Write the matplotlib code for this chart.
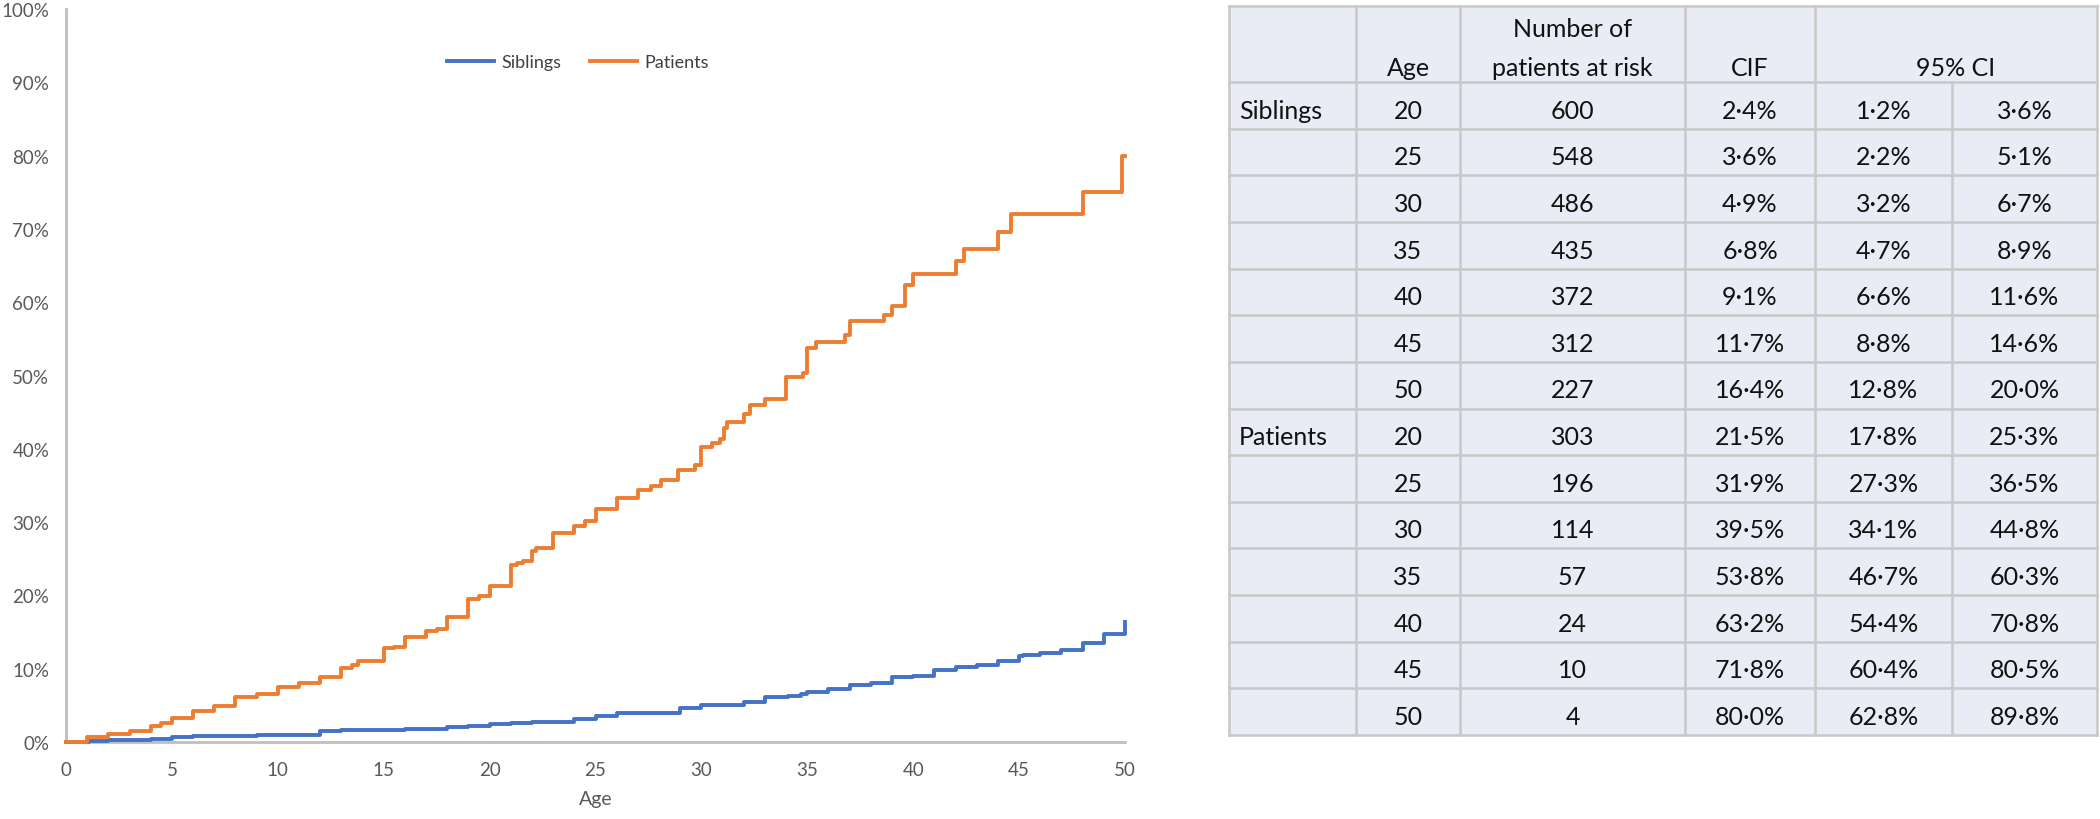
import matplotlib
matplotlib.use("Agg")
import matplotlib.pyplot as plt
from matplotlib.patches import Rectangle
from matplotlib.ticker import FuncFormatter

plt.rcParams['font.family'] = ['Lato', 'DejaVu Sans']

# ---------------- data ----------------
sib_age = [0, 1.1, 2, 4, 5, 6, 9, 12, 13, 16, 18, 19, 20, 21, 22, 24, 25, 26, 29, 30,
           31, 32, 33, 34.1, 34.7, 35, 36, 37, 38, 39, 40, 41, 42, 43, 44, 45, 45.2,
           46, 47, 48, 49, 50]
sib_cif = [0, 0.15, 0.25, 0.45, 0.65, 0.8, 0.95, 1.45, 1.6, 1.8, 2.0, 2.2, 2.4, 2.6, 2.7,
           3.1, 3.5, 3.9, 4.7, 5.0, 5.1, 5.5, 6.2, 6.3, 6.6, 6.8, 7.2, 7.8, 8.0, 8.8,
           9.0, 9.8, 10.2, 10.5, 11.1, 11.7, 11.9, 12.1, 12.5, 13.5, 14.8, 16.4]

pat_age = [0, 1, 2, 3, 4, 4.5, 5, 6, 7, 8, 9, 10, 11, 12, 13, 13.5, 13.8, 15, 15.5,
           16, 17, 17.5, 18, 19, 19.5, 20, 21, 21.3, 21.6, 22, 22.2, 23, 24, 24.5, 25,
           26, 27, 27.6, 28.1, 28.9, 29.7, 30, 30.5, 30.9, 31.05, 31.2, 32, 32.3, 33,
           34, 34.8, 35, 35.4, 36.8, 37, 38.6, 39, 39.6, 40, 42, 42.4, 44, 44.6, 48,
           49.85, 50]
pat_cif = [0, 0.7, 1.1, 1.5, 2.2, 2.6, 3.3, 4.2, 4.9, 6.1, 6.5, 7.5, 8.0, 8.9, 10.1,
           10.5, 11.1, 12.8, 13.0, 14.3, 15.1, 15.4, 17.0, 19.5, 19.9, 21.3, 24.1, 24.4,
           24.7, 26.1, 26.5, 28.5, 29.5, 30.2, 31.8, 33.3, 34.4, 34.9, 35.8, 37.1, 37.8,
           40.2, 40.8, 41.4, 42.9, 43.6, 44.7, 46.0, 46.8, 49.8, 50.4, 53.8, 54.6, 55.5,
           57.4, 58.3, 59.5, 62.4, 63.8, 65.6, 67.3, 69.6, 72.1, 75.1, 80.0, 80.0]

series_names = ["Siblings", "Patients"]
series_colors = ["#4472C4", "#ED7D31"]

x_ticks = [0, 5, 10, 15, 20, 25, 30, 35, 40, 45, 50]
y_ticks = [0, 10, 20, 30, 40, 50, 60, 70, 80, 90, 100]

table_header = ["", "Age", ["Number of", "patients at risk"], "CIF", "95% CI"]
table_group = ["Siblings", "", "", "", "", "", "",
               "Patients", "", "", "", "", "", ""]
table_age = ["20", "25", "30", "35", "40", "45", "50",
             "20", "25", "30", "35", "40", "45", "50"]
table_risk = ["600", "548", "486", "435", "372", "312", "227",
              "303", "196", "114", "57", "24", "10", "4"]
table_cif = ["2·4%", "3·6%", "4·9%", "6·8%", "9·1%", "11·7%", "16·4%",
             "21·5%", "31·9%", "39·5%", "53·8%", "63·2%", "71·8%", "80·0%"]
table_lo = ["1·2%", "2·2%", "3·2%", "4·7%", "6·6%", "8·8%", "12·8%",
            "17·8%", "27·3%", "34·1%", "46·7%", "54·4%", "60·4%", "62·8%"]
table_hi = ["3·6%", "5·1%", "6·7%", "8·9%", "11·6%", "14·6%", "20·0%",
            "25·3%", "36·5%", "44·8%", "60·3%", "70·8%", "80·5%", "89·8%"]

# ---------------- figure ----------------
W, H = 2100, 820
fig = plt.figure(figsize=(W / 100, H / 100), dpi=100)

ax_l, ax_r, ax_t, ax_b = 66, 1125, 10, 743
ax = fig.add_axes([ax_l / W, 1 - ax_b / H, (ax_r - ax_l) / W, (ax_b - ax_t) / H])
for s in ["top", "right"]:
    ax.spines[s].set_visible(False)
for s in ["left", "bottom"]:
    ax.spines[s].set_color("#BFBFBF")
    ax.spines[s].set_linewidth(2)
    ax.spines[s].set_zorder(1)
ax.step(sib_age, sib_cif, where='post', color=series_colors[0], lw=2.8,
        label=series_names[0], clip_on=False, zorder=3)
ax.step(pat_age, pat_cif, where='post', color=series_colors[1], lw=2.8,
        label=series_names[1], clip_on=False, zorder=4)
ax.set_xlim(0, 50)
ax.set_ylim(0, 100)
ax.set_xticks(x_ticks)
ax.set_yticks(y_ticks)
ax.yaxis.set_major_formatter(FuncFormatter(lambda v, p: f"{v:.0f}%"))
ax.tick_params(length=0, labelsize=13.5, labelcolor="#595959")
ax.tick_params(axis="x", pad=14)
ax.tick_params(axis="y", pad=12)
ax.set_xlabel("Age", fontsize=14, color="#595959", labelpad=8)
leg = ax.legend(loc="center", bbox_to_anchor=(578 / W, 1 - 63 / H),
                bbox_transform=fig.transFigure, ncol=2, frameon=False,
                fontsize=13, handlelength=2.6, columnspacing=1.6, handletextpad=0.4)
for t in leg.get_texts():
    t.set_color("#404040")

# ---------------- table ----------------
tax = fig.add_axes([0, 0, 1, 1])
tax.set_xlim(0, W)
tax.set_ylim(H, 0)
tax.axis("off")

col_x = [1229, 1356, 1460, 1685, 1815, 1952, 2097]
top, head_bot, tab_bot = 7, 83, 736
row_h = (tab_bot - head_bot) / len(table_age)
fill = "#E9EBF5"
line_c = "#C8C8C8"
tfs = 18
tcol = "#111111"

tax.add_patch(Rectangle((col_x[0], top), col_x[-1] - col_x[0], tab_bot - top,
                        facecolor=fill, edgecolor="none"))
ys = [top, head_bot] + [head_bot + (i + 1) * row_h for i in range(len(table_age))]
for y in ys:
    tax.plot([col_x[0], col_x[-1]], [y, y], color=line_c, lw=1.8)
for i, x in enumerate(col_x):
    y0 = head_bot if i == 5 else top
    tax.plot([x, x], [y0, tab_bot], color=line_c, lw=1.8)

# header
hy = head_bot - 7
hy1 = hy - 39
tax.text((col_x[1] + col_x[2]) / 2, hy, table_header[1], ha="center", va="baseline",
         fontsize=tfs, color=tcol)
tax.text((col_x[2] + col_x[3]) / 2, hy1, table_header[2][0], ha="center", va="baseline",
         fontsize=tfs, color=tcol)
tax.text((col_x[2] + col_x[3]) / 2, hy, table_header[2][1], ha="center", va="baseline",
         fontsize=tfs, color=tcol)
tax.text((col_x[3] + col_x[4]) / 2, hy, table_header[3], ha="center", va="baseline",
         fontsize=tfs, color=tcol)
tax.text((col_x[4] + col_x[6]) / 2, hy, table_header[4], ha="center", va="baseline",
         fontsize=tfs, color=tcol)

cols = [table_age, table_risk, table_cif, table_lo, table_hi]
for r in range(len(table_age)):
    yb = head_bot + (r + 1) * row_h - 11
    if table_group[r]:
        tax.text(col_x[0] + 10, yb, table_group[r], ha="left", va="baseline",
                 fontsize=tfs, color=tcol)
    for c, vals in enumerate(cols):
        xc = (col_x[c + 1] + col_x[c + 2]) / 2
        tax.text(xc, yb, vals[r], ha="center", va="baseline", fontsize=tfs, color=tcol)

fig.savefig("out.png", dpi=100)
